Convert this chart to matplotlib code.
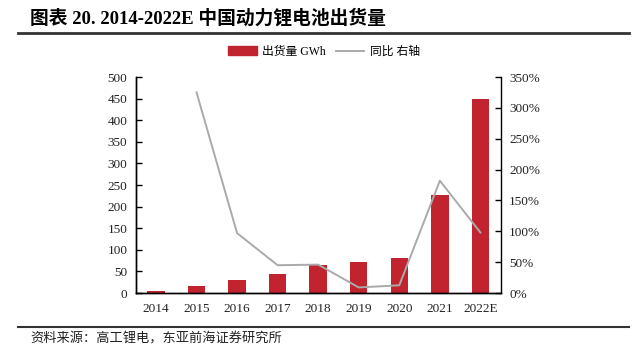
import matplotlib
matplotlib.use('Agg')
import matplotlib.pyplot as plt
from matplotlib.lines import Line2D
from matplotlib.ticker import FuncFormatter, MultipleLocator
import numpy as np

BAR_COLOR = '#C1232F'
LINE_COLOR = '#AAAAAA'
SERIF = ['Liberation Serif', 'Noto Sans CJK SC']

years = ['2014', '2015', '2016', '2017', '2018', '2019', '2020', '2021', '2022E']
shipments = [3.7, 16.9, 30.8, 44.5, 65, 71, 80, 226, 450]   # GWh
yoy = [np.nan, 325, 97, 45, 46, 9, 12.5, 182, 98]            # %

W, H = 641, 355
fig = plt.figure(figsize=(W / 100, H / 100), dpi=100)
fig.patch.set_facecolor('white')

# plot area in pixel coords
left, right, top, bottom = 135.7, 500.7, 77, 293
ax = fig.add_axes([left / W, 1 - bottom / H, (right - left) / W, (bottom - top) / H])
x = np.arange(len(years))
ax.bar(x, shipments, width=0.43, color=BAR_COLOR, zorder=2, label='出货量 GWh')
ax.set_xlim(-0.5, len(years) - 0.5)
ax.set_ylim(0, 500)
ax.yaxis.set_major_locator(MultipleLocator(50))
ax.set_xticks(x)
ax.set_xticklabels(years)

ax2 = ax.twinx()
ax2.plot(x, yoy, color=LINE_COLOR, lw=1.4, zorder=3, label='同比 右轴')
ax2.set_ylim(0, 350)
ax2.yaxis.set_major_locator(MultipleLocator(50))
ax2.yaxis.set_major_formatter(FuncFormatter(lambda v, p: f'{int(v)}%'))

for a in (ax, ax2):
    a.spines['top'].set_visible(False)
    for s in ('left', 'right', 'bottom'):
        a.spines[s].set_linewidth(1.0)
        a.spines[s].set_color('black')
    a.tick_params(axis='y', direction='in', length=4, width=1, pad=6,
                  labelsize=9.5, labelcolor='#222222')
    for lbl in a.get_yticklabels():
        lbl.set_fontfamily(SERIF)
ax.spines['right'].set_visible(False)
ax.tick_params(axis='x', length=0, pad=7, labelsize=9.5, labelcolor='#222222')
for lbl in ax.get_xticklabels():
    lbl.set_fontfamily(SERIF)

# legend
handles = [plt.Rectangle((0, 0), 1, 1, color=BAR_COLOR),
           Line2D([0], [0], color=LINE_COLOR, lw=1.4)]
fig.legend(handles, ['出货量 GWh', '同比 右轴'], loc='center',
           bbox_to_anchor=(324 / W, 1 - 52 / H), ncol=2, frameon=False,
           prop={'family': SERIF, 'size': 8.5}, handlelength=2.4,
           handleheight=0.8, columnspacing=0.8, handletextpad=0.5)

# title and rules
fig.text(30 / W, 1 - 18 / H, '图表 20. 2014-2022E 中国动力锂电池出货量',
         fontsize=13.5, fontweight='bold', family=SERIF, ha='left', va='center')
fig.add_artist(Line2D([18 / W, 629 / W], [1 - 32.7 / H, 1 - 32.7 / H],
                      color='#333333', lw=2.0))
fig.add_artist(Line2D([18 / W, 629 / W], [1 - 327 / H, 1 - 327 / H],
                      color='#333333', lw=1.5))
fig.text(30 / W, 1 - 339 / H, '资料来源：高工锂电，东亚前海证券研究所',
         fontsize=9.5, family=SERIF, ha='left', va='center', color='#222222')

plt.savefig('out.png', dpi=100, facecolor='white')
plt.close()
